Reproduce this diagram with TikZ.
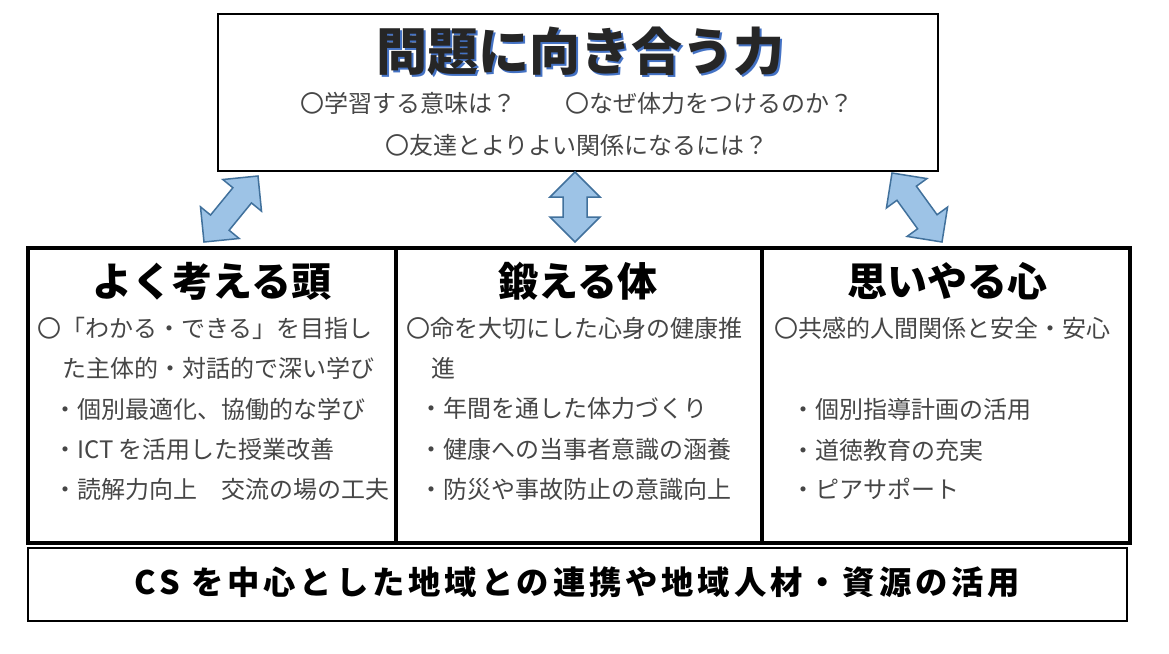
\documentclass[tikz,border=0pt]{standalone}
\usepackage{fontspec}
\usetikzlibrary{calc}
\newfontfamily\jp{Noto Sans CJK JP}
\definecolor{txtgray}{RGB}{70,70,70}
\definecolor{arrfill}{RGB}{157,195,230}
\definecolor{arrline}{RGB}{65,113,156}
\definecolor{shadowblue}{RGB}{68,114,196}
\newcommand{\dblarr}[2]{%
  \coordinate (hA) at ($(#1)!25pt!(#2)$);
  \coordinate (hB) at ($(#2)!25pt!(#1)$);
  \draw[arrowsty] (#1) -- ($(hA)!25pt!90:(#2)$) -- ($(hA)!12pt!90:(#2)$)
    -- ($(hB)!12pt!-90:(#1)$) -- ($(hB)!25pt!-90:(#1)$) -- (#2)
    -- ($(hB)!25pt!90:(#1)$) -- ($(hB)!12pt!90:(#1)$)
    -- ($(hA)!12pt!-90:(#2)$) -- ($(hA)!25pt!-90:(#2)$) -- cycle;}
\begin{document}
\begin{tikzpicture}[x=1pt,y=-1pt,
  box/.style={draw, line width=2.5pt, inner sep=0pt},
  colbox/.style={draw, line width=3.5pt, inner sep=0pt},
  body/.style={anchor=west, inner sep=0pt, font=\jp\fontsize{24}{28}\selectfont, text=txtgray},
  head/.style={inner sep=0pt, font=\jp\bfseries\fontsize{40}{48}\selectfont},
  titlef/.style={inner sep=0pt, font=\jp\bfseries\fontsize{51}{60}\selectfont},
  arrowsty/.style={fill=arrfill, draw=arrline, line width=1.5pt, line join=miter}]
\useasboundingbox (0,0) rectangle (1169,653);
\fill[white] (0,0) rectangle (1169,653);

% top box
\node[box, minimum width=720pt, minimum height=157pt] (top) at (578,92.5) {};
\node[titlef, text=black!85] (title) at (580,52.5) {\rlap{\hspace{2.5pt}\raisebox{-2.5pt}{\color{shadowblue}問題に向き合う力}}問題に向き合う力};
\node[body] (q1) at (300,103) {〇学習する意味は？};
\node[body] (q2) at (565,103) {〇なぜ体力をつけるのか？};
\node[body] (q3) at (385,145) {〇友達とよりよい関係になるには？};

% columns
\node[colbox, minimum width=368pt, minimum height=295pt] (col1) at (212,395.5) {};
\node[colbox, minimum width=366pt, minimum height=295pt] (col2) at (579,395.5) {};
\node[colbox, minimum width=368pt, minimum height=295pt] (col3) at (946,395.5) {};

\node[head] (h1) at (212,281) {よく考える頭};
\node[head] (h2) at (578,281) {鍛える体};
\node[head] (h3) at (947,281) {思いやる心};

\node[body] (a1) at (37,328) {〇「わかる・できる」を目指し};
\node[body] (a2) at (62,368) {た主体的・対話的で深い学び};
\node[body] (a3) at (53,409) {・個別最適化、協働的な学び};
\node[body] (a4) at (53,449) {・ICT を活用した授業改善};
\node[body] (a5) at (53,489) {・読解力向上　交流の場の工夫};

\node[body] (b1) at (406,328) {〇命を大切にした心身の健康推};
\node[body] (b2) at (431,368) {進};
\node[body] (b3) at (419,408) {・年間を通した体力づくり};
\node[body] (b4) at (419,449) {・健康への当事者意識の涵養};
\node[body] (b5) at (419,489) {・防災や事故防止の意識向上};

\node[body] (c1) at (774,328) {〇共感的人間関係と安全・安心};
\node[body] (c2) at (791,409) {・個別指導計画の活用};
\node[body] (c3) at (791,450) {・道徳教育の充実};
\node[body] (c4) at (791,489) {・ピアサポート};

% bottom box
\node[box, minimum width=1099pt, minimum height=73pt] (bot) at (577.5,584.5) {};
\node[inner sep=0pt] (bottxt) at (577.5,582) {\resizebox{885pt}{!}{\jp\bfseries\fontsize{30}{36}\selectfont\addfontfeature{LetterSpace=12}CS を中心とした地域との連携や地域人材・資源の活用}};

% arrows
\coordinate (la) at (204,242); \coordinate (lb) at (258,176);
\coordinate (ma) at (575,172); \coordinate (mb) at (575,242);
\coordinate (ra) at (892,173); \coordinate (rb) at (942,242);
\dblarr{la}{lb}
\dblarr{ma}{mb}
\dblarr{ra}{rb}
\end{tikzpicture}
\end{document}
